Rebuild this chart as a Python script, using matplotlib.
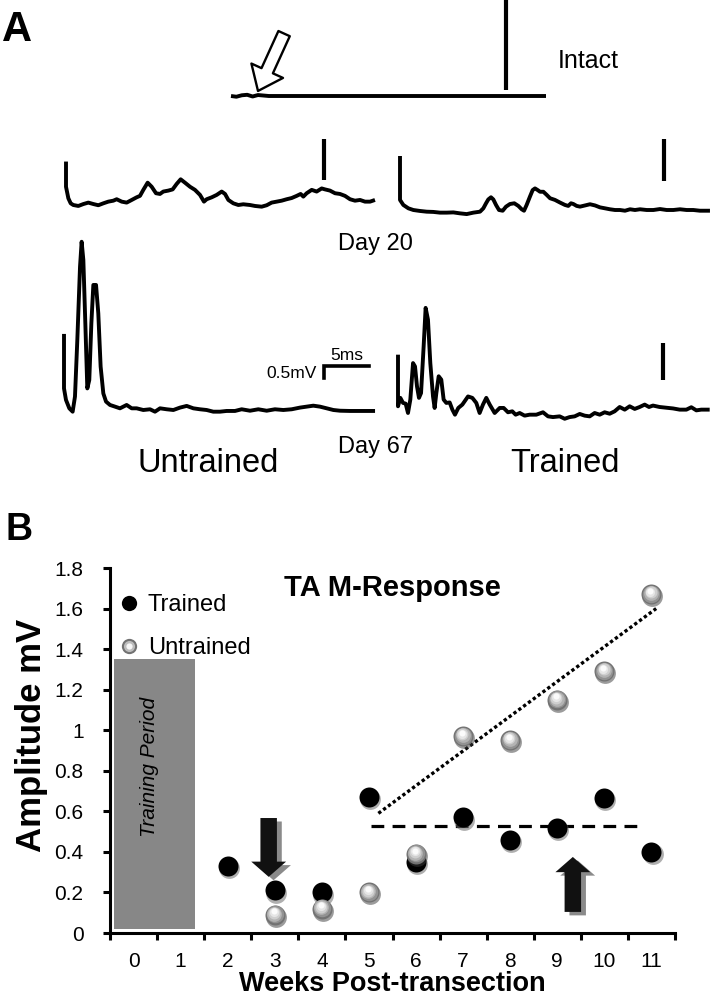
import numpy as np
import matplotlib
matplotlib.use('Agg')
import matplotlib.pyplot as plt
from matplotlib import font_manager
from matplotlib.lines import Line2D
from matplotlib.patches import Rectangle, FancyArrow
from matplotlib.transforms import ScaledTranslation
from matplotlib.legend_handler import HandlerTuple

plt.rcParams['font.family'] = ['Liberation Sans', 'DejaVu Sans']

W, H = 711, 996          # output size in pixels (dpi 100)
MS_PX, MV_PX = 9.0, 24.0  # trace scale: pixels per ms, pixels per mV

# ---------------- Panel A: M-response traces (time in ms, amplitude in mV) ----------------
intact_t = [0, 0.6, 1.2, 1.8, 2.4, 3.0, 3.6, 4.2, 35.0]
intact_v = [0, -0.03, 0.03, 0.05, -0.02, 0.04, 0.02, 0, 0]

d20_untr_t = [0, 0, 0.26, 0.52, 0.81, 1.37, 1.93, 2.48, 3.04, 3.59, 4.15, 4.70, 5.26, 5.63, 6.19,
              6.74, 7.30, 7.85, 8.22, 8.59, 9.07, 9.52, 10.00, 10.44, 10.81, 11.37, 11.85, 12.30,
              12.74, 13.22, 13.78, 14.33, 14.89, 15.33, 15.63, 16.19, 16.74, 17.30, 17.67, 18.04,
              18.59, 19.15, 19.70, 20.44, 21.00, 21.74, 22.30, 22.85, 23.41, 23.96, 24.52, 25.07,
              25.63, 26.07, 26.37, 26.74, 27.30, 27.85, 28.41, 28.78, 29.33, 29.89, 30.44, 31.00,
              31.56, 32.11, 32.67, 33.22, 33.78, 34.33]
d20_untr_v = [1.81, 0.76, 0.28, 0.07, 0, -0.04, 0.04, 0.10, 0.04, -0.01, 0.07, 0.14, 0.18, 0.24, 0.14,
              0.10, 0.21, 0.32, 0.38, 0.63, 0.93, 0.76, 0.49, 0.46, 0.56, 0.60, 0.65, 0.88,
              1.07, 0.93, 0.76, 0.63, 0.42, 0.14, 0.24, 0.32, 0.42, 0.56, 0.46, 0.21,
              0.07, 0, 0.03, 0, -0.04, -0.07, -0.01, 0.10, 0.14, 0.18, 0.24, 0.29,
              0.38, 0.46, 0.35, 0.49, 0.63, 0.56, 0.69, 0.65, 0.60, 0.49, 0.46, 0.38,
              0.24, 0.18, 0.21, 0.14, 0.14, 0.21]

d20_tr_t = [0, 0, 0.37, 0.93, 1.48, 2.22, 2.96, 3.70, 4.44, 5.19, 5.93, 6.67, 7.41, 8.15, 8.89,
            9.26, 9.56, 9.81, 10.11, 10.37, 10.67, 11.00, 11.41, 11.78, 12.22, 12.70, 13.15, 13.52,
            13.78, 14.07, 14.44, 14.74, 15.00, 15.30, 15.56, 15.93, 16.30, 16.67, 17.22, 17.78,
            18.33, 18.70, 19.00, 19.26, 19.63, 20.00, 20.56, 21.11, 21.67, 22.22, 22.78, 23.33,
            23.89, 24.44, 25.00, 25.56, 26.11, 26.67, 27.41, 28.15, 28.89, 29.63, 30.37, 31.11,
            31.85, 32.59, 33.33, 34.44]
d20_tr_v = [2.25, 0.42, 0.21, 0.07, 0, -0.04, -0.07, -0.08, -0.11, -0.11, -0.10, -0.14, -0.17, -0.11, -0.07,
            0.07, 0.28, 0.44, 0.53, 0.44, 0.21, 0, -0.03, 0.14, 0.25, 0.28, 0.17, 0.03,
            -0.03, 0.21, 0.56, 0.83, 0.90, 0.83, 0.76, 0.76, 0.63, 0.49, 0.42, 0.31,
            0.21, 0.17, 0.28, 0.25, 0.17, 0.14, 0.19, 0.24, 0.19, 0.11, 0.07, 0.03,
            0, 0, -0.03, 0.03, 0, 0.03, 0, 0, 0.04, 0, 0, 0.03,
            0, 0, -0.03, -0.03]

d67_untr_t = [0, 0, 0.22, 0.59, 0.96, 1.22, 1.48, 1.78, 1.96, 2.15, 2.37, 2.59, 2.81, 3.04, 3.26,
              3.56, 3.81, 4.07, 4.37, 4.67, 5.11, 5.67, 6.22, 6.96, 7.52, 8.07, 8.81, 9.56, 10.11,
              10.67, 11.41, 12.15, 12.89, 13.63, 14.37, 15.11, 15.85, 16.59, 17.33, 18.07, 19.00,
              19.74, 20.67, 21.59, 22.52, 23.44, 24.37, 25.30, 26.22, 26.96, 27.70, 28.44, 29.19,
              29.93, 30.67, 31.78, 32.89, 34.56]
d67_untr_v = [3.17, 0.90, 0.42, 0.07, -0.07, 0.56, 2.92, 5.97, 7.01, 6.25, 3.61, 0.90, 1.25, 3.61, 5.21,
              5.21, 4.03, 1.81, 0.69, 0.35, 0.21, 0.14, 0.07, 0.21, 0.07, 0.07, 0, 0.03, -0.07,
              0.07, 0.03, 0, 0.10, 0.17, 0.07, 0.03, 0, -0.07, -0.07, -0.04, -0.04,
              0.03, -0.03, 0.03, -0.03, 0.03, 0, 0.03, 0.10, 0.14, 0.18, 0.14, 0.07,
              0, -0.03, -0.04, -0.04, -0.04]

d67_tr_t = [0, 0, 0.26, 0.56, 0.85, 1.11, 1.37, 1.67, 1.89, 2.11, 2.33, 2.56, 2.85, 3.07, 3.33,
            3.59, 3.89, 4.07, 4.26, 4.52, 4.81, 5.07, 5.37, 5.74, 6.04, 6.33, 6.70, 7.15, 7.78,
            8.26, 8.70, 9.07, 9.44, 9.81, 10.19, 10.74, 11.30, 11.74, 12.22, 12.70, 13.07, 13.52,
            14.07, 14.63, 15.37, 16.11, 16.67, 17.22, 17.96, 18.52, 19.07, 19.63, 20.19, 20.74,
            21.30, 21.85, 22.41, 22.96, 23.52, 24.07, 24.63, 25.19, 25.74, 26.30, 26.85, 27.41,
            27.89, 28.33, 29.07, 29.81, 30.56, 31.30, 32.04, 32.59, 33.15, 33.70, 34.63]
d67_tr_v = [2.43, 0.28, 0.63, 0.42, 0.39, 0, 0.56, 2.08, 1.94, 1.11, 0.63, 0.83, 2.78, 4.38, 3.89,
            2.08, 0.69, 0.21, 0.83, 1.53, 1.39, 0.56, 0.42, 0.44, 0.14, -0.07, 0.21, 0.35, 0.69,
            0.63, 0.42, 0, 0.35, 0.63, 0.35, 0, 0.21, 0.21, 0.03, 0.07, -0.07, 0,
            -0.11, -0.07, -0.07, 0.03, -0.14, -0.17, -0.14, -0.24, -0.17, -0.14, -0.04, -0.11,
            -0.14, 0, -0.07, 0.03, -0.03, 0.07, 0.25, 0.14, 0.28, 0.17, 0.25, 0.35,
            0.25, 0.31, 0.25, 0.22, 0.19, 0.14, 0.14, 0.24, 0.11, 0.14, 0.14]

# stimulus marker bars: time (ms), lower and upper amplitude (mV)
intact_bar = (30.6, 0.25, 4.0)
d20_untr_bar = (28.67, 1.04, 2.75)
d20_tr_bar = (29.33, 1.22, 2.96)
d67_tr_bar = (29.44, 1.39, 2.92)

scale_ms, scale_mv = 5, 0.5

# ---------------- Panel B: TA M-response amplitude ----------------
week_labels = [str(w) for w in range(12)]
trained_wk = [2, 3, 4, 5, 6, 7, 8, 9, 10, 11]
trained_amp = [0.33, 0.21, 0.20, 0.67, 0.35, 0.57, 0.46, 0.52, 0.665, 0.40]
untrained_wk = [3, 4, 5, 6, 7, 8, 9, 10, 11]
untrained_amp = [0.09, 0.12, 0.20, 0.39, 0.97, 0.95, 1.15, 1.29, 1.67]
trend_wk, trend_amp = [5.2, 11.1], [0.59, 1.60]
plateau_wk, plateau_amp = [5.05, 10.85], [0.53, 0.53]
y_ticks = [0, 0.2, 0.4, 0.6, 0.8, 1.0, 1.2, 1.4, 1.6, 1.8]
y_tick_labels = ['0', '0.2', '0.4', '0.6', '0.8', '1', '1.2', '1.4', '1.6', '1.8']

installed = {f.name for f in font_manager.fontManager.ttflist}
if 'Liberation Sans Narrow' in installed:
    group_family, group_size = ['Liberation Sans Narrow', 'DejaVu Sans'], 28
else:
    group_family, group_size = ['Liberation Sans', 'DejaVu Sans'], 23.5

fig = plt.figure(figsize=(W / 100, H / 100), dpi=100)


def fx(x):
    return x / W


def fy(y):
    return 1 - y / H


def trace_axes(x0, y0, t_max, v_lo, v_hi):
    # x0, y0: pixel position of t=0, v=0
    ax = fig.add_axes([fx(x0), fy(y0 - v_lo * MV_PX), t_max * MS_PX / W, (v_hi - v_lo) * MV_PX / H])
    ax.set_xlim(0, t_max)
    ax.set_ylim(v_lo, v_hi)
    ax.axis('off')
    return ax


def draw_trace(ax, t, v, bar=None):
    ax.plot(t, v, color='black', lw=2.8, solid_joinstyle='round', solid_capstyle='butt', clip_on=False)
    if bar is not None:
        ax.vlines(bar[0], bar[1], bar[2], color='black', lw=3, clip_on=False)


ax_in = trace_axes(231, 96, 36, -0.5, 4.0)
draw_trace(ax_in, intact_t, intact_v, intact_bar)
ax_in.annotate('', xy=(3.0, 0.21), xytext=(5.9, 2.6),
               arrowprops=dict(arrowstyle='simple,head_width=1.25,head_length=0.8,tail_width=0.45',
                               fc='white', ec='black', lw=1.7, shrinkA=0, shrinkB=0, mutation_scale=20))

ax_a = trace_axes(66, 205, 35, -0.5, 2.8)
draw_trace(ax_a, d20_untr_t, d20_untr_v, d20_untr_bar)
ax_b = trace_axes(400, 210, 35, -0.5, 3.0)
draw_trace(ax_b, d20_tr_t, d20_tr_v, d20_tr_bar)
ax_c = trace_axes(64, 410, 35, -0.5, 7.2)
draw_trace(ax_c, d67_untr_t, d67_untr_v)
ax_d = trace_axes(398, 413, 35, -0.5, 4.6)
draw_trace(ax_d, d67_tr_t, d67_tr_v, d67_tr_bar)

# calibration bar
corner_t, corner_v = 28.9, 1.85
ax_c.plot([corner_t + scale_ms, corner_t, corner_t], [corner_v, corner_v, corner_v - scale_mv],
          color='black', lw=2.6, solid_joinstyle='miter', clip_on=False)
ax_c.text(corner_t + scale_ms / 2, corner_v + 0.25, '5ms', ha='center', va='baseline', fontsize=12.5)
ax_c.text(corner_t - 0.8, corner_v - scale_mv, '0.5mV', ha='right', va='baseline', fontsize=12.5)

fig.text(fx(2), fy(41), 'A', fontsize=30, fontweight='bold', ha='left', va='baseline')
fig.text(fx(558), fy(68), 'Intact', fontsize=18, ha='left', va='baseline')
fig.text(fx(338), fy(250), 'Day 20', fontsize=17, ha='left', va='baseline')
fig.text(fx(338), fy(453), 'Day 67', fontsize=17, ha='left', va='baseline')
fig.text(fx(138), fy(472), 'Untrained', family=group_family, fontsize=group_size, ha='left', va='baseline')
fig.text(fx(510), fy(472), 'Trained', family=group_family, fontsize=group_size, ha='left', va='baseline')
fig.text(fx(5), fy(540), 'B', fontsize=27, fontweight='bold', ha='left', va='baseline')

# ---------------- Panel B axes ----------------
axB = fig.add_axes([fx(110), fy(933), 565 / W, 365 / H])
axB.set_xlim(-0.5, 11.5)
axB.set_ylim(0, 1.8)

axB.add_patch(Rectangle((-0.42, 0.02), 1.73, 1.33, facecolor='#878787', edgecolor='none', zorder=1))
axB.text(0.33, 0.82, 'Training Period', rotation=90, style='italic', fontsize=15,
         ha='center', va='center', zorder=2)

axB.plot(plateau_wk, plateau_amp, color='black', lw=2.3, linestyle=(0, (4, 2.6)), dash_capstyle='butt', zorder=2)
axB.plot(trend_wk, trend_amp, color='black', lw=2.4, linestyle=(0, (1.0, 0.8)), dash_capstyle='butt', zorder=2)


def shift(dx, dy):
    return axB.transData + ScaledTranslation(dx / 72, dy / 72, fig.dpi_scale_trans)


# trained: black dots with soft shadow
axB.plot(trained_wk, trained_amp, 'o', ms=15, color='#6e6e6e', alpha=0.55, mew=0,
         transform=shift(0.8, -1.5), zorder=3)
axB.plot(trained_wk, trained_amp, 'o', ms=14.4, color='black', mew=0, zorder=4)

# untrained: shaded silver spheres
sphere_layers = [(15.0, '#3a3a3a', 0.6, -1.4, 0.5),
                 (14.4, '#727272', 0, 0, 1),
                 (12.6, '#929292', -0.2, 0.4, 1),
                 (10.6, '#b3b3b3', -0.4, 0.9, 1),
                 (8.6, '#cfcfcf', -0.6, 1.4, 1),
                 (6.6, '#e6e6e6', -0.7, 1.9, 1),
                 (4.4, '#fbfbfb', -0.8, 2.4, 1)]
for i, (ms, col, dx, dy, al) in enumerate(sphere_layers):
    axB.plot(untrained_wk, untrained_amp, 'o', ms=ms, color=col, alpha=al, mew=0,
             transform=shift(dx, dy), zorder=5 + i * 0.1)

# arrows with drop shadow
for x, y0, y1 in [(2.87, 0.567, 0.277), (9.33, 0.104, 0.375)]:
    for dx, dy, col, z in [(3.5, -2.5, '#8a8a8a', 6), (0, 0, '#111111', 7)]:
        arr = FancyArrow(x, y0, 0, y1 - y0, width=0.35, head_width=0.74, head_length=0.075,
                         length_includes_head=True, facecolor=col, edgecolor='none',
                         transform=shift(dx, dy), zorder=z)
        axB.add_patch(arr)

axB.text(5.5, 1.70, 'TA M-Response', ha='center', va='center', fontsize=21, fontweight='bold')

h_tr = Line2D([], [], marker='o', ls='none', ms=11, color='black', mew=0)
h_un = (Line2D([], [], marker='o', ls='none', ms=11, color='#727272', mew=0),
        Line2D([], [], marker='o', ls='none', ms=8, color='#bdbdbd', mew=0),
        Line2D([], [], marker='o', ls='none', ms=4.5, color='#f7f7f7', mew=0))
axB.legend([h_tr, h_un], ['Trained', 'Untrained'], loc='upper left', bbox_to_anchor=(0.015, 0.929),
           frameon=False, fontsize=17, handlelength=0.9, handletextpad=0.35, labelspacing=0.9,
           borderpad=0, borderaxespad=0, handler_map={tuple: HandlerTuple(ndivide=1, pad=0)})

for side in ['top', 'right']:
    axB.spines[side].set_visible(False)
for side in ['left', 'bottom']:
    axB.spines[side].set_linewidth(2.2)

axB.set_xticks(np.arange(-0.5, 12, 1))
axB.set_xticklabels([])
axB.set_xticks(range(12), minor=True)
axB.set_xticklabels(week_labels, minor=True)
axB.tick_params(axis='x', which='major', length=5, width=2.2)
axB.tick_params(axis='x', which='minor', length=0, pad=14, labelsize=15)
axB.set_yticks(y_ticks)
axB.set_yticklabels(y_tick_labels)
axB.tick_params(axis='y', length=5, width=2.2, pad=14, labelsize=15)

axB.set_xlabel('Weeks Post-transection', fontsize=19.5, fontweight='bold', labelpad=0)
axB.set_ylabel('Amplitude mV', fontsize=25, fontweight='bold')
axB.yaxis.set_label_coords(-0.11, 0.54)

fig.savefig('out.png', dpi=100)
